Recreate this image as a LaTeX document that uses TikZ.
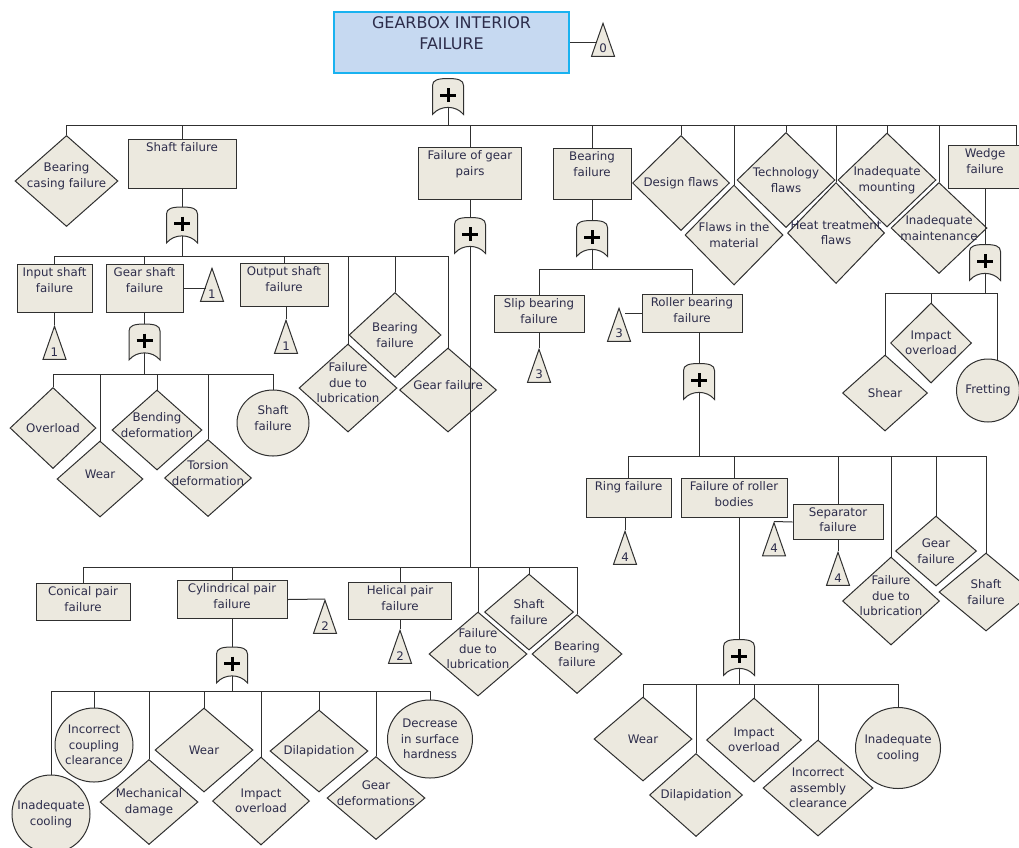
\documentclass[tikz,border=0pt]{standalone}
\usepackage{fontspec}
\setmainfont{DejaVu Sans}
\usetikzlibrary{shapes.geometric}

\definecolor{evfill}{RGB}{236,233,223}
\definecolor{linec}{RGB}{48,48,48}
\definecolor{txtc}{RGB}{45,45,75}
\definecolor{topfill}{RGB}{198,217,241}
\definecolor{topline}{RGB}{25,178,240}

\tikzset{
  every label/.style={align=center, text=txtc, font=\fontsize{11.8}{15.5}\selectfont},
  evbox/.style={rectangle, draw=linec, fill=evfill, line width=1pt, inner sep=0pt, anchor=north},
  evdia/.style={diamond, draw=linec, fill=evfill, line width=1pt, inner sep=0pt},
  evcirc/.style={ellipse, draw=linec, fill=evfill, line width=1pt, inner sep=0pt},
  xfer/.style={isosceles triangle, isosceles triangle stretches, shape border rotate=90,
    draw=linec, fill=evfill, line width=1pt, inner sep=0pt,
    minimum width=23pt, minimum height=33pt, anchor=apex},
  orgate/.style={minimum width=31pt, minimum height=36pt, inner sep=0pt,
    append after command={\pgfextra{
      \draw[linec, fill=evfill, line width=1pt, shift={(\tikzlastnode.center)}]
        (-15.5,18) -- (-15.5,-11) .. controls (-15.5,-16.5) and (-10,-18) .. (0,-18)
        .. controls (10,-18) and (15.5,-16.5) .. (15.5,-11) -- (15.5,18)
        .. controls (8,8.5) and (-8,8.5) .. (-15.5,18) -- cycle;
      \draw[black, line width=3pt, shift={(\tikzlastnode.center)}]
        (-8,-1.5) -- (8,-1.5) (0,-8.5) -- (0,5.5);
    }}},
  sz/.style 2 args={minimum width=#1pt, minimum height=#2pt},
  btxt/.style={label={[anchor=north]90:{#1}}},
  ctxt/.style={label={center:{#1}}},
  utxt/.style={label={[yshift=5pt]center:{#1}}},
  ntxt/.style={label={[anchor=south, inner sep=3.5pt]270:{#1}}},
  conn/.style={linec, line width=1pt},
}

\begin{document}
\begin{tikzpicture}[x=1pt, y=-1pt]
  \useasboundingbox (0,0) rectangle (1019,847);

  % top event
  \node[evbox, draw=topline, fill=topfill, line width=2pt, sz={235}{61},
    label={[anchor=north, yshift=-2.5pt, font=\fontsize{16}{21}\selectfont]90:{GEARBOX INTERIOR\\FAILURE}}] (top) at (451.5,11) {};
  \node[xfer, ntxt=0] (t0) at (603,22) {};
  \node[orgate] (g0) at (448,96.5) {};
  \coordinate (b0) at (448,125);

  % first level
  \node[evdia, sz={103}{91}, utxt={Bearing\\casing failure}] (bcf) at (66.5,181) {};
  \node[evbox, sz={108}{49}, btxt={Shaft failure}] (shf) at (182,139) {};
  \node[evbox, sz={103}{52}, btxt={Failure of gear\\pairs}] (fgp) at (470,147) {};
  \node[evbox, sz={78}{51}, btxt={Bearing\\failure}] (brf) at (592,148) {};
  \node[evdia, sz={97}{95}, ctxt={Design flaws}] (dsf) at (681,183) {};
  \node[evdia, sz={98}{100}, ctxt={Flaws in the\\material}] (flm) at (734,235) {};
  \node[evdia, sz={98}{95}, ctxt={Technology\\flaws}] (tcf) at (786,180) {};
  \node[evdia, sz={97}{101}, ctxt={Heat treatment\\flaws}] (htf) at (836,233) {};
  \node[evdia, sz={98}{94}, ctxt={Inadequate\\mounting}] (imo) at (887,180) {};
  \node[evdia, sz={96}{91}, ctxt={Inadequate\\maintenance}] (ima) at (939,228) {};
  \node[evbox, sz={74}{43}, btxt={Wedge\\failure}] (wdf) at (985,145) {};

  % shaft failure
  \node[orgate] (g1) at (182,225) {};
  \coordinate (b1) at (182,256);
  \node[evbox, sz={75}{48}, btxt={Input shaft\\failure}] (inp) at (54.5,264) {};
  \node[evbox, sz={77}{48}, btxt={Gear shaft\\failure}] (gsh) at (144.5,264) {};
  \node[evbox, sz={88}{43}, btxt={Output shaft\\failure}] (osh) at (284,263) {};
  \node[evdia, sz={92}{85}, ctxt={Bearing\\failure}] (bfl1) at (395,335) {};
  \node[evdia, sz={98}{88}, utxt={Failure\\due to\\lubrication}] (flb1) at (348,388) {};
  \node[evdia, sz={97}{84}, utxt={Gear failure}] (grf1) at (448,390) {};
  \node[xfer, ntxt=1] (t1a) at (54.5,325) {};
  \node[xfer, ntxt=1] (t1b) at (212,267) {};
  \node[xfer, ntxt=1] (t1c) at (286,319) {};

  % gear shaft failure
  \node[orgate] (g2) at (144.5,342) {};
  \coordinate (b2) at (144.5,374);
  \node[evdia, sz={86}{81}, ctxt={Overload}] (ovl) at (53,428) {};
  \node[evdia, sz={90}{80}, utxt={Bending\\deformation}] (bnd) at (157,430) {};
  \node[evdia, sz={86}{76}, utxt={Wear}] (wea1) at (100,479) {};
  \node[evdia, sz={87}{77}, utxt={Torsion\\deformation}] (tor) at (208,478) {};
  \node[evcirc, sz={72}{66}, utxt={Shaft\\failure}] (shc) at (273,423) {};

  % failure of gear pairs
  \node[orgate] (g3) at (470,235.5) {};
  \coordinate (b3) at (470,567);
  \node[evbox, sz={94}{37}, btxt={Conical pair\\failure}] (con) at (83,583) {};
  \node[evbox, sz={110}{38}, btxt={Cylindrical pair\\failure}] (cyl) at (232,580) {};
  \node[evbox, sz={103}{37}, btxt={Helical pair\\failure}] (hel) at (400,582) {};
  \node[evdia, sz={89}{76}, ctxt={Shaft\\failure}] (shd2) at (529,612) {};
  \node[evdia, sz={98}{84}, utxt={Failure\\due to\\lubrication}] (flb2) at (478,654) {};
  \node[evdia, sz={90}{79}, ctxt={Bearing\\failure}] (bfl2) at (577,654) {};
  \node[xfer, ntxt=2] (t2a) at (325,599) {};
  \node[xfer, ntxt=2] (t2b) at (400,629) {};

  % cylindrical pair failure
  \node[orgate] (g4) at (232,665) {};
  \coordinate (b4) at (232,691);
  \node[evcirc, sz={78}{74}, ctxt={Incorrect\\coupling\\clearance}] (icc) at (94,745) {};
  \node[evcirc, sz={78}{78}, ctxt={Inadequate\\cooling}] (inc1) at (51,814) {};
  \node[evdia, sz={98}{84}, ctxt={Wear}] (wea2) at (204,750) {};
  \node[evdia, sz={98}{85}, ctxt={Mechanical\\damage}] (mcd) at (149,802) {};
  \node[evdia, sz={98}{82}, ctxt={Dilapidation}] (dil1) at (319,751) {};
  \node[evdia, sz={97}{88}, ctxt={Impact\\overload}] (imp1) at (261,801) {};
  \node[evdia, sz={98}{83}, utxt={Gear\\deformations}] (gde) at (376,798) {};
  \node[evcirc, sz={85}{78}, ctxt={Decrease\\in surface\\hardness}] (dsh) at (430,739) {};

  % bearing failure
  \node[orgate] (g5) at (592,238.5) {};
  \coordinate (b5) at (592,269);
  \node[evbox, sz={90}{37}, btxt={Slip bearing\\failure}] (slb) at (539,295) {};
  \node[evbox, sz={100}{38}, btxt={Roller bearing\\failure}] (rol) at (692,294) {};
  \node[xfer, ntxt=3] (t3a) at (539,348) {};
  \node[xfer, ntxt=3] (t3b) at (619,307) {};

  % roller bearing failure
  \node[orgate] (g6) at (699,381.5) {};
  \coordinate (b6) at (699,456);
  \node[evbox, sz={85}{39}, btxt={Ring failure}] (rng) at (628.5,478) {};
  \node[evbox, sz={106}{39}, btxt={Failure of roller\\bodies}] (frb) at (734,478) {};
  \node[evbox, sz={90}{35}, btxt={Separator\\failure}] (sep) at (838,504) {};
  \node[evdia, sz={81}{70}, ctxt={Gear\\failure}] (grf3) at (936,551) {};
  \node[evdia, sz={97}{88}, utxt={Failure\\due to\\lubrication}] (flb3) at (891,601) {};
  \node[evdia, sz={94}{78}, ctxt={Shaft\\failure}] (shd3) at (986,592) {};
  \node[xfer, ntxt=4] (t4a) at (625,530) {};
  \node[xfer, ntxt=4] (t4b) at (774,521.5) {};
  \node[xfer, ntxt=4] (t4c) at (838,551) {};

  % failure of roller bodies
  \node[orgate] (g7) at (739,657.5) {};
  \coordinate (b7) at (739,684);
  \node[evdia, sz={98}{84}, ctxt={Wear}] (wea3) at (643,739) {};
  \node[evdia, sz={95}{84}, ctxt={Impact\\overload}] (imp3) at (754,740) {};
  \node[evdia, sz={93}{83}, ctxt={Dilapidation}] (dil3) at (696,795) {};
  \node[evdia, sz={110}{96}, ctxt={Incorrect\\assembly\\clearance}] (iac) at (818,788) {};
  \node[evcirc, sz={85}{81}, ctxt={Inadequate\\cooling}] (inc3) at (898,748) {};

  % wedge failure
  \node[orgate] (g8) at (985,262.5) {};
  \coordinate (b8) at (985,293);
  \node[evdia, sz={81}{80}, ctxt={Impact\\overload}] (imp2) at (931,343) {};
  \node[evdia, sz={85}{76}, ctxt={Shear}] (shr) at (885,393) {};
  \node[evcirc, sz={63}{63}, ctxt={Fretting}] (fre) at (988,390.5) {};

  % connectors
  \draw[conn] (top.east) -- (top.east -| t0.left side);
  \draw[conn] ([yshift=-10.9pt]g0.center) -- (b0);
  \draw[conn] (b0) -| (bcf);
  \draw[conn] (b0) -| (shf);
  \draw[conn] (b0) -| (fgp);
  \draw[conn] (b0) -| (brf);
  \draw[conn] (b0) -| (dsf);
  \draw[conn] (b0) -| (flm);
  \draw[conn] (b0) -| (tcf);
  \draw[conn] (b0) -| (htf);
  \draw[conn] (b0) -| (imo);
  \draw[conn] (b0) -| (ima);
  \draw[conn] (b0) -| ([xshift=31pt]wdf.north);

  \draw[conn] (shf) -- (g1);
  \draw[conn] ([yshift=-10.9pt]g1.center) -- (b1);
  \draw[conn] (b1) -| (inp);
  \draw[conn] (b1) -| (gsh);
  \draw[conn] (b1) -| (osh);
  \draw[conn] (b1) -| (flb1);
  \draw[conn] (b1) -| (bfl1);
  \draw[conn] (b1) -| (grf1);
  \draw[conn] (inp.south) -- (t1a.apex);
  \draw[conn] (gsh.east) -- (gsh.east -| t1b.left side);
  \draw[conn] (osh.south -| t1c.apex) -- (t1c.apex);

  \draw[conn] (gsh) -- (g2);
  \draw[conn] ([yshift=-10.9pt]g2.center) -- (b2);
  \draw[conn] (b2) -| (ovl);
  \draw[conn] (b2) -| (wea1);
  \draw[conn] (b2) -| (bnd);
  \draw[conn] (b2) -| (tor);
  \draw[conn] (b2) -| (shc);

  \draw[conn] (fgp) -- (g3);
  \draw[conn] ([yshift=-10.9pt]g3.center) -- (b3);
  \draw[conn] (b3) -| (con);
  \draw[conn] (b3) -| (cyl);
  \draw[conn] (b3) -| (hel);
  \draw[conn] (b3) -| (flb2);
  \draw[conn] (b3) -| (shd2);
  \draw[conn] (b3) -| (bfl2);
  \draw[conn] (cyl.east) -- (t2a.apex);
  \draw[conn] (hel.south -| t2b.apex) -- (t2b.apex);

  \draw[conn] (cyl) -- (g4);
  \draw[conn] ([yshift=-10.9pt]g4.center) -- (b4);
  \draw[conn] (b4) -| (inc1);
  \draw[conn] (b4) -| (icc);
  \draw[conn] (b4) -| (mcd);
  \draw[conn] (b4) -| (wea2);
  \draw[conn] (b4) -| (imp1);
  \draw[conn] (b4) -| (dil1);
  \draw[conn] (b4) -| (gde);
  \draw[conn] (b4) -| (dsh);

  \draw[conn] (brf) -- (g5);
  \draw[conn] ([yshift=-10.9pt]g5.center) -- (b5);
  \draw[conn] (b5) -| (slb);
  \draw[conn] (b5) -| (rol);
  \draw[conn] (slb.south -| t3a.apex) -- (t3a.apex);
  \draw[conn] (rol.west) -- (rol.west -| t3b.right side);

  \draw[conn] (rol.south -| g6) -- (g6);
  \draw[conn] ([yshift=-10.9pt]g6.center) -- (b6);
  \draw[conn] (b6) -| (rng);
  \draw[conn] (b6) -| (frb);
  \draw[conn] (b6) -| (sep);
  \draw[conn] (b6) -| (flb3);
  \draw[conn] (b6) -| (grf3);
  \draw[conn] (b6) -| (shd3);
  \draw[conn] (rng.south -| t4a.apex) -- (t4a.apex);
  \draw[conn] (sep.west) -- (t4b.apex);
  \draw[conn] (sep.south -| t4c.apex) -- (t4c.apex);

  \draw[conn] (frb.south -| g7) -- (g7);
  \draw[conn] ([yshift=-10.9pt]g7.center) -- (b7);
  \draw[conn] (b7) -| (wea3);
  \draw[conn] (b7) -| (dil3);
  \draw[conn] (b7) -| (imp3);
  \draw[conn] (b7) -| (iac);
  \draw[conn] (b7) -| (inc3);

  \draw[conn] (wdf) -- (g8);
  \draw[conn] ([yshift=-10.9pt]g8.center) -- (b8);
  \draw[conn] (b8) -| (shr);
  \draw[conn] (b8) -| (imp2);
  \draw[conn] (b8) -| (fre.73);
\end{tikzpicture}
\end{document}
